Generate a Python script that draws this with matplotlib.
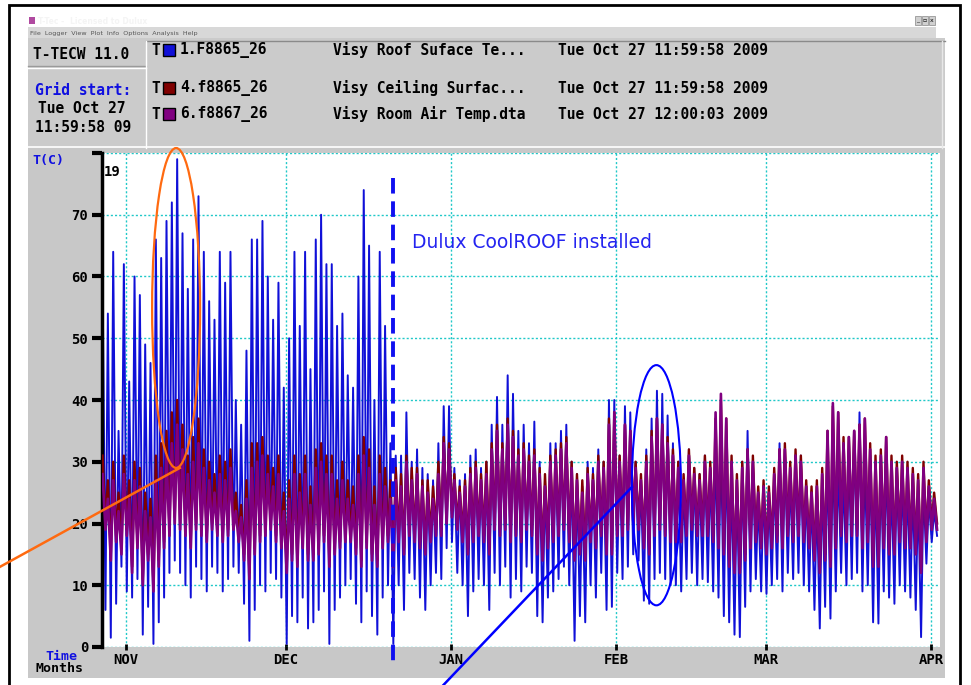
import numpy as np
import pandas as pd
import matplotlib
matplotlib.use("Agg")
import matplotlib.pyplot as plt
from matplotlib.patches import Rectangle, Ellipse
import matplotlib.dates as mdates

# daily highs / lows, day 0 = Tue Oct 27 2009 12:00
start = pd.Timestamp("2009-10-27 12:00")

blue_hi = [61, 54, 64, 35, 62, 43, 60, 57, 49, 46,
           66, 63, 69, 72, 79, 67, 58, 66, 73, 64,
           56, 53, 64, 59, 64, 40, 36, 48, 66, 66,
           69, 60, 53, 59, 42, 50, 64, 52, 64, 45,
           66, 70, 62, 62, 52, 54, 44, 42, 60, 74,
           65, 40, 64, 52, 33, 31, 31, 38, 30, 32,
           29, 28, 27, 33, 39, 39, 29, 27, 28, 31,
           32, 29, 30, 36, 40.5, 36, 44, 41, 35, 36,
           33, 36.5, 30, 27, 33, 33, 35, 36, 30, 28,
           26, 30, 29, 32, 30, 40, 40, 31, 39, 38,
           30, 27, 32, 37, 41.5, 41, 37.5, 33, 30, 27,
           32, 29, 28, 31, 29, 33, 34, 33, 28, 27,
           30, 35, 30, 24, 26, 25, 28, 33, 32, 28,
           31, 31, 26, 25, 24, 27, 31.5, 33, 30, 28,
           32, 35, 38, 30, 31, 28, 30, 31, 27, 29,
           28, 27, 26, 25, 26, 24, 22]
blue_lo = [6, 1.5, 7, 13, 9, 8, 11, 2, 6.5, 0.5,
           4, 8, 12, 14, 12, 10, 8, 13, 11, 9,
           13, 12, 9, 11, 13, 12, 7, 1, 6, 10,
           9, 12, 11, 8, 0.5, 5, 4, 8, 3, 4,
           6, 9, 0.5, 6, 8, 10, 11, 7, 4, 9,
           5, 2, 8, 10, 0.5, 10, 6, 12, 11, 8,
           6, 10, 12, 11, 16, 17, 12, 10, 5, 9,
           11, 10, 6, 12, 10, 13, 8, 11, 9, 13,
           12, 5, 4, 8, 9, 11, 13, 10, 1, 5,
           4, 10, 8, 12, 6, 6.5, 12, 11, 13, 15,
           14, 7.5, 7, 11, 12, 11, 10, 10, 9, 11,
           12, 10, 11, 10.5, 9, 8, 5, 4, 2, 1.6,
           6.5, 9, 11, 9, 8.6, 10, 11, 9, 12, 11,
           12, 10, 9, 6, 3, 6.5, 4.6, 9, 12, 10,
           11, 12, 9, 10, 4, 3.8, 9, 8, 7, 10,
           9, 8, 6, 1.6, 13.5, 17, 18]

ceiling_hi = [31, 27, 30, 25, 31, 27, 30, 29, 25, 24,
              31, 33, 35, 38, 40, 36, 31, 34, 37, 32,
              30, 28, 31, 30, 32, 25, 23, 27, 33, 33,
              34, 31, 29, 31, 25, 27, 31, 28, 31, 26,
              32, 33, 31, 31, 27, 30, 27, 26, 31, 34,
              32, 26, 31, 29, 27, 29, 28, 31, 29, 29,
              27, 27, 26, 30, 34, 33, 28, 26, 27, 29,
              30, 28, 30, 33, 36, 33, 37, 35, 32, 33,
              31, 32, 29, 28, 31, 32, 33, 34, 30, 28,
              27, 29, 28, 31, 30, 37, 38, 31, 36, 35,
              30, 28, 31, 35, 37, 36, 34, 32, 30, 28,
              32, 29, 28, 31, 30, 37, 40, 37, 31, 28,
              30, 32, 31, 26, 27, 26, 29, 32, 33, 30,
              32, 31, 27, 26, 27, 29, 35, 39, 38, 34,
              34, 35, 36, 37, 33, 31, 32, 34, 31, 30,
              31, 30, 29, 28, 30, 27, 25]
ceiling_lo = [20, 15, 18, 16, 19, 13, 17, 11, 15, 10,
              14, 17, 19, 21, 20, 19, 17, 20, 19, 18,
              20, 19, 18, 19, 20, 18, 15, 12, 16, 18,
              19, 20, 18, 17, 13, 15, 14, 17, 15, 15,
              16, 18, 14, 16, 17, 18, 18, 16, 14, 17,
              15, 14, 17, 18, 14, 18, 16, 19, 18, 17,
              16, 18, 19, 19, 21, 22, 20, 18, 16, 18,
              19, 18, 16, 20, 19, 20, 18, 19, 18, 20,
              19, 16, 15, 17, 18, 19, 20, 18, 15, 16,
              15, 18, 17, 19, 16, 16, 19, 19, 20, 21,
              20, 17, 16, 19, 20, 19, 18, 18, 18, 19,
              20, 19, 19, 19, 18, 17, 16, 14, 13, 13,
              15, 17, 18, 17, 16, 17, 18, 17, 19, 18,
              19, 18, 17, 15, 13, 15, 14, 17, 19, 18,
              19, 19, 17, 18, 14, 14, 17, 16, 16, 18,
              17, 17, 16, 13, 18, 20, 20]

room_hi = [28, 24, 27, 22, 28, 24, 27, 26, 22, 21,
           27, 29, 31, 33, 36, 32, 28, 30, 33, 29,
           27, 25, 28, 27, 29, 22, 21, 24, 29, 30,
           31, 28, 26, 28, 22, 24, 28, 25, 28, 23,
           29, 30, 28, 28, 24, 27, 24, 23, 28, 31,
           29, 23, 28, 26, 24, 27, 26, 30, 27, 28,
           26, 25, 24, 28, 33, 32, 27, 25, 26, 28,
           29, 27, 28, 32, 35, 32, 36, 34, 31, 32,
           30, 31, 28, 26, 30, 31, 32, 33, 29, 27,
           25, 28, 27, 30, 29, 36, 38, 30, 36, 35,
           29, 27, 30, 34, 37, 36, 33, 31, 29, 27,
           31, 28, 27, 30, 29, 38, 41, 37, 30, 27,
           29, 32, 30, 25, 26, 25, 28, 32, 32, 29,
           31, 30, 26, 25, 26, 28, 35, 39.5, 38, 33,
           34, 35, 36, 37, 32, 30, 31, 34, 30, 29,
           30, 29, 28, 27, 29, 26, 24]
room_lo = [19, 14, 17, 15, 18, 12, 16, 10, 14, 9,
           13, 16, 18, 20, 19, 18, 16, 19, 18, 17,
           19, 18, 17, 18, 19, 17, 14, 11, 15, 17,
           18, 19, 17, 16, 12, 14, 13, 16, 14, 14,
           15, 17, 13, 15, 16, 17, 17, 15, 13, 16,
           14, 13, 16, 17, 13, 17, 15, 18, 17, 16,
           15, 17, 18, 18, 20, 21, 19, 17, 15, 17,
           18, 17, 15, 19, 18, 19, 17, 18, 17, 19,
           18, 15, 14, 16, 17, 18, 19, 17, 14, 15,
           14, 17, 16, 18, 15, 15, 18, 18, 19, 20,
           19, 16, 15, 18, 19, 18, 17, 17, 17, 18,
           19, 18, 18, 18, 17, 16, 15, 13, 12, 12,
           14, 16, 17, 16, 15, 16, 17, 16, 18, 17,
           18, 17, 16, 14, 12, 14, 13, 16, 18, 17,
           18, 18, 16, 17, 13, 13, 16, 15, 15, 17,
           16, 16, 15, 12, 17, 19, 19]

month_ticks = ["2009-11-01", "2009-12-01", "2010-01-01", "2010-02-01", "2010-03-01", "2010-04-01"]
month_labels = ["NOV", "DEC", "JAN", "FEB", "MAR", "APR"]
install_date = pd.Timestamp("2009-12-21 00:00")

legend_rows = [("1.F8865_26", "Visy Roof Suface Te...", "Tue Oct 27 11:59:58 2009", "#1010d8"),
               ("4.f8865_26", "Visy Ceiling Surfac...", "Tue Oct 27 11:59:58 2009", "#800000"),
               ("6.f8867_26", "Visy Room Air Temp.dta", "Tue Oct 27 12:00:03 2009", "#800080")]

# peak in the afternoon, low before dawn
days = np.arange(len(blue_hi))
t = start + pd.to_timedelta(np.column_stack([days + 0.1, days + 0.65]).ravel(), unit="D")


def zig(hi, lo):
    return np.column_stack([hi, lo]).ravel()


mono = "DejaVu Sans Mono"
W, H = 971, 685
fig = plt.figure(figsize=(W / 100, H / 100), dpi=100)

# window chrome in pixel coords
bg = fig.add_axes([0, 0, 1, 1], zorder=0)
bg.axis("off")
bg.add_patch(Rectangle((9, 5), 951, 700, fc="white", ec="black", lw=2))
bg.imshow(np.linspace(0.50, 0.84, 256)[None, :], cmap="gray", vmin=0, vmax=1,
          extent=(28, 936, 27, 15), aspect="auto")
bg.add_patch(Rectangle((28, 27), 908, 11, fc="#d8d8d8", ec="none"))
bg.add_patch(Rectangle((28, 38), 917, 110, fc="#cbcbcb", ec="none"))
bg.add_patch(Rectangle((28, 148), 917, 530, fc="#c8c8c8", ec="none"))
bg.plot([146, 945], [41, 41], color="#8a8a8a", lw=1)
bg.plot([28, 146], [66, 66], color="#9a9a9a", lw=1)
bg.plot([28, 146], [68, 68], color="white", lw=1)
bg.plot([146, 146], [41, 148], color="white", lw=1)
bg.plot([28, 945], [147, 147], color="white", lw=1.2)
bg.plot([942, 942], [41, 148], color="#e8e8e8", lw=1)
bg.text(38, 21, "T-Tec -", fontsize=5.5, color="#f4f4f4", va="center", weight="bold")
bg.text(70, 21, "Licensed to Dulux", fontsize=5.5, color="#f4f4f4", va="center", weight="bold")
bg.add_patch(Rectangle((29, 17), 6, 7, fc="#b04aa0", ec="none"))
bg.text(30, 33, "File  Logger  View  Plot  Info  Options  Analysis  Help",
        fontsize=4.6, color="#555555", va="center")
for k, s in enumerate(["_", "\u25ab", "x"]):
    bg.add_patch(Rectangle((915 + k * 7, 16), 6, 9, fc="#d0d0d0", ec="#888888", lw=0.5))
    bg.text(918 + k * 7, 20.5, s, fontsize=4.5, ha="center", va="center")

bg.text(33, 54, "T-TECW 11.0", family=mono, weight="bold", fontsize=10.5, va="center")
bg.text(35, 90, "Grid start:", family=mono, weight="bold", fontsize=10.5, va="center", color="#1010e0")
bg.text(38, 108, "Tue Oct 27", family=mono, weight="bold", fontsize=10.5, va="center")
bg.text(35, 127, "11:59:58 09", family=mono, weight="bold", fontsize=10.5, va="center")
for (name, desc, stamp, col), yy in zip(legend_rows, [50, 88, 114]):
    bg.text(151, yy, "T", family=mono, weight="bold", fontsize=10.5, va="center")
    bg.add_patch(Rectangle((163, yy - 6), 12, 12, fc=col, ec="black", lw=1))
    bg.text(180, yy, name, family=mono, weight="bold", fontsize=10.5, va="center")
    bg.text(333, yy, desc, family=mono, weight="bold", fontsize=10.5, va="center")
    bg.text(558, yy, stamp, family=mono, weight="bold", fontsize=10.5, va="center")

bg.text(32, 160, "T(C)", family=mono, weight="bold", fontsize=9.5, va="center", color="#1010e0")
bg.text(45, 656, "Time", family=mono, weight="bold", fontsize=9.5, va="center", color="#1010e0")
bg.text(35, 669, "Months", family=mono, weight="bold", fontsize=9.5, va="center")
bg.set_xlim(0, W)
bg.set_ylim(H, 0)

# plot area
ax = fig.add_axes([102 / W, (H - 647) / H, 838 / W, 494 / H], zorder=1)
ax.set_facecolor("white")
ax.plot(t, zig(blue_hi, blue_lo), color="#1010d8", lw=1.4, zorder=2)
ax.plot(t, zig(ceiling_hi, ceiling_lo), color="#800000", lw=1.7, zorder=3)
ax.plot(t, zig(room_hi, room_lo), color="#800080", lw=1.9, zorder=4)

t0 = mdates.date2num(start)
ax.set_xlim(t0, t0 + 157.2)
ax.set_ylim(0, 80)
ax.set_yticks(range(0, 81, 10))
ax.set_yticklabels([str(v) for v in range(0, 71, 10)] + [""])
ax.set_xticks(pd.to_datetime(month_ticks))
ax.set_xticklabels(month_labels)
for lab in ax.get_xticklabels() + ax.get_yticklabels():
    lab.set_family(mono)
    lab.set_weight("bold")
    lab.set_fontsize(10)
ax.tick_params(axis="y", length=7, width=3, direction="out", pad=3)
ax.tick_params(axis="x", length=5, width=2, direction="inout", pad=2)
for s in ["top", "right", "bottom"]:
    ax.spines[s].set_visible(False)
ax.spines["left"].set_linewidth(2.5)
ax.set_axisbelow(True)
ax.grid(True, color="#20c8c8", linestyle=(0, (1.5, 1.5)), lw=1)
ax.text(0.002, 0.962, "19", transform=ax.transAxes, family=mono, weight="bold",
        fontsize=10, va="center")

# annotations
xi = mdates.date2num(install_date)
ax.plot([xi, xi], [76, -3.4], color="#1010f0", lw=2.8, dashes=(4, 2), clip_on=False, zorder=6)
ax.text(xi + 3.6, 65.5, "Dulux CoolROOF installed", color="#2424f0", fontsize=13.5, va="center", zorder=7)
ax.add_patch(Ellipse((t0 + 13.9, 54.9), 9.0, 51.8, fill=False, ec="#ff6a10", lw=1.6,
                     clip_on=False, zorder=6))
ax.plot([t0 + 14.6, t0 - 19.1], [29.0, 13.0], color="#ff6a10", lw=1.8, clip_on=False, zorder=6)
ax.add_patch(Ellipse((t0 + 104.0, 26.2), 9.2, 38.9, fill=False, ec="#0000ff", lw=1.5,
                     clip_on=False, zorder=6))
ax.plot([t0 + 99.4, t0 + 64.0], [25.9, -6.2], color="#0000ff", lw=1.8, clip_on=False, zorder=6)

fig.savefig("out.png", dpi=100)
